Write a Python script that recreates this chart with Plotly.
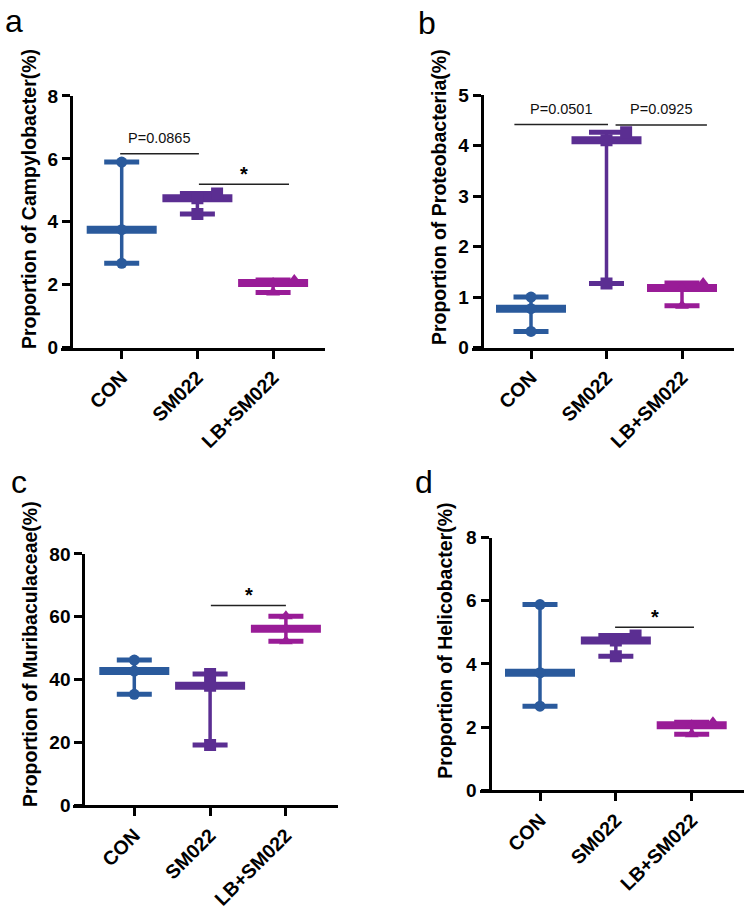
import plotly.graph_objects as go

# ---------------- data ----------------
categories = ["CON", "SM022", "LB+SM022"]

campylobacter = [[2.68, 3.75, 5.90], [4.25, 4.75, 4.90], [1.75, 2.05, 2.15]]
proteobacteria = [[0.32, 0.77, 1.00], [1.27, 4.11, 4.27], [0.83, 1.18, 1.28]]
muribaculaceae = [[35.3, 42.7, 46.2], [19.2, 38.0, 41.8], [52.2, 56.2, 60.2]]
helicobacter = [[2.66, 3.72, 5.88], [4.24, 4.74, 4.90], [1.77, 2.06, 2.15]]

y_titles = ["Proportion of Campylobacter(%)", "Proportion of Proteobacteria(%)",
            "Proportion of Muribaculaceae(%)", "Proportion of Helicobacter(%)"]
y_max = [8, 5, 80, 8]
y_dtick = [2, 1, 20, 2]
panel_letters = ["a", "b", "c", "d"]

# significance brackets: (x_start, x_end, y_line, label)
brackets = [
    [(-0.02, 1.02, 6.16, "P=0.0865"), (1.02, 2.21, 5.19, "*")],
    [(-0.22, 1.02, 4.42, "P=0.0501"), (1.12, 2.33, 4.41, "P=0.0925")],
    [(1.01, 2.0, 63.6, "*")],
    [(0.99, 2.03, 5.16, "*")],
]

# ---------------- style ----------------
W, H = 749, 916
FONT = "Liberation Sans, Arial, sans-serif"
colors = ["#2A5A9C", "#5B2E92", "#991C97"]
symbols = ["circle", "square", "triangle-up"]
# horizontal scatter offsets of each sorted point (min, median, max) per panel/group
offsets = [
    [[0, 0, 0], [0, 0, 0.26], [0, 0, 0.28]],
    [[0, 0, 0], [0, 0, 0.26], [0, 0, 0.28]],
    [[0, 0, 0], [0, 0, 0], [0, 0, 0]],
    [[0, 0, 0], [0, 0, 0.26], [0, 0, 0.28]],
]

# panel geometry in window pixels
geom = [
    dict(xl=61, xr=325, yx=71, cx0=121.7, sp=75.7, y0=345.5, ytop=88,
         tx=28.5, ty=194, lx=3, ly=11),
    dict(xl=471.7, xr=734, yx=481.7, cx0=531, sp=75.5, y0=345.5, ytop=87.3,
         tx=439, ty=191.5, lx=416, ly=13),
    dict(xl=73, xr=337.7, yx=83.3, cx0=134.3, sp=75.8, y0=813.9, ytop=556.7,
         tx=30, ty=659, lx=9, ly=483),
    dict(xl=479.5, xr=743.7, yx=489.5, cx0=540, sp=75.85, y0=798.5, ytop=540,
         tx=445, ty=645.5, lx=413, ly=483),
]


def px(x):
    return x / W


def py(y):
    return 1 - y / H


datasets = [campylobacter, proteobacteria, muribaculaceae, helicobacter]

fig = go.Figure()
layout = dict(width=W, height=H, margin=dict(l=0, r=0, t=0, b=0),
              plot_bgcolor="white", paper_bgcolor="white",
              showlegend=False, font=dict(family=FONT, color="black"))
annotations = []
shapes = []

for p, data in enumerate(datasets):
    g = geom[p]
    xa = "x" if p == 0 else f"x{p+1}"
    ya = "y" if p == 0 else f"y{p+1}"
    xkey = "xaxis" if p == 0 else f"xaxis{p+1}"
    ykey = "yaxis" if p == 0 else f"yaxis{p+1}"

    layout[xkey] = dict(
        domain=[px(g["xl"]), px(g["xr"])],
        range=[(g["xl"] - g["cx0"]) / g["sp"], (g["xr"] - g["cx0"]) / g["sp"]],
        anchor=ya, showline=True, linewidth=3, linecolor="black",
        ticks="outside", ticklen=8, tickwidth=3, tickcolor="black",
        tickvals=[0, 1, 2], ticktext=categories, tickangle=-45,
        tickfont=dict(family=FONT, size=19.5, color="black", weight="bold"),
        showgrid=False, zeroline=False, fixedrange=True,
    )
    layout[ykey] = dict(
        domain=[py(g["y0"]), py(g["ytop"])],
        range=[0, y_max[p]], anchor="free", position=px(g["yx"]),
        showline=True, linewidth=3, linecolor="black",
        ticks="outside", ticklen=8, tickwidth=3, tickcolor="black",
        dtick=y_dtick[p], tick0=0,
        tickfont=dict(family=FONT, size=19, color="black", weight="bold"),
        showgrid=False, zeroline=False, fixedrange=True,
    )

    for i, vals in enumerate(data):
        v = sorted(vals)
        c = colors[i]
        # range whisker
        fig.add_trace(go.Scatter(x=[i, i], y=[v[0], v[-1]], mode="lines",
                                 line=dict(color=c, width=3.5),
                                 xaxis=xa, yaxis=ya, hoverinfo="skip"))
        # caps
        fig.add_trace(go.Scatter(x=[i, i], y=[v[0], v[-1]], mode="markers",
                                 marker=dict(symbol="line-ew", size=25,
                                             line=dict(color=c, width=5)),
                                 xaxis=xa, yaxis=ya, hoverinfo="skip"))
        # median bar
        fig.add_trace(go.Scatter(x=[i], y=[v[1]], mode="markers",
                                 marker=dict(symbol="line-ew", size=50,
                                             line=dict(color=c, width=8)),
                                 xaxis=xa, yaxis=ya, hoverinfo="skip"))
        # individual points
        fig.add_trace(go.Scatter(x=[i + o for o in offsets[p][i]], y=v,
                                 mode="markers",
                                 marker=dict(symbol=symbols[i], size=12 if i else 11,
                                             color=c, line=dict(width=0)),
                                 xaxis=xa, yaxis=ya, hoverinfo="skip"))

    for (x0, x1, yl, lab) in brackets[p]:
        shapes.append(dict(type="line", xref=xa, yref=ya, x0=x0, x1=x1,
                           y0=yl, y1=yl, line=dict(color="#222222", width=1.5)))
        ppu = (g["y0"] - g["ytop"]) / y_max[p]
        if lab == "*":
            annotations.append(dict(xref=xa, yref=ya, x=(x0 + x1) / 2 + 0.005,
                                    y=yl + 11 / ppu, text="*", showarrow=False,
                                    xanchor="center", yanchor="middle",
                                    font=dict(family=FONT, size=20, color="black",
                                              weight="bold")))
        else:
            annotations.append(dict(xref=xa, yref=ya, x=(x0 + x1) / 2,
                                    y=yl + 16 / ppu, text=lab, showarrow=False,
                                    xanchor="center", yanchor="middle",
                                    font=dict(family=FONT, size=14.5, color="#111111")))

    annotations.append(dict(xref="paper", yref="paper", x=px(g["tx"]), y=py(g["ty"]),
                            text=y_titles[p], textangle=-90, showarrow=False,
                            xanchor="center", yanchor="middle",
                            font=dict(family=FONT, size=19.5, color="black",
                                      weight="bold")))
    annotations.append(dict(xref="paper", yref="paper", x=px(g["lx"]), y=py(g["ly"]),
                            text=panel_letters[p], showarrow=False,
                            xanchor="left", yanchor="middle",
                            font=dict(family=FONT, size=32, color="black")))

layout["annotations"] = annotations
layout["shapes"] = shapes
fig.update_layout(**layout)
fig.write_html("out.html", post_script="document.body.style.margin='0';",
               config={"displayModeBar": False})
